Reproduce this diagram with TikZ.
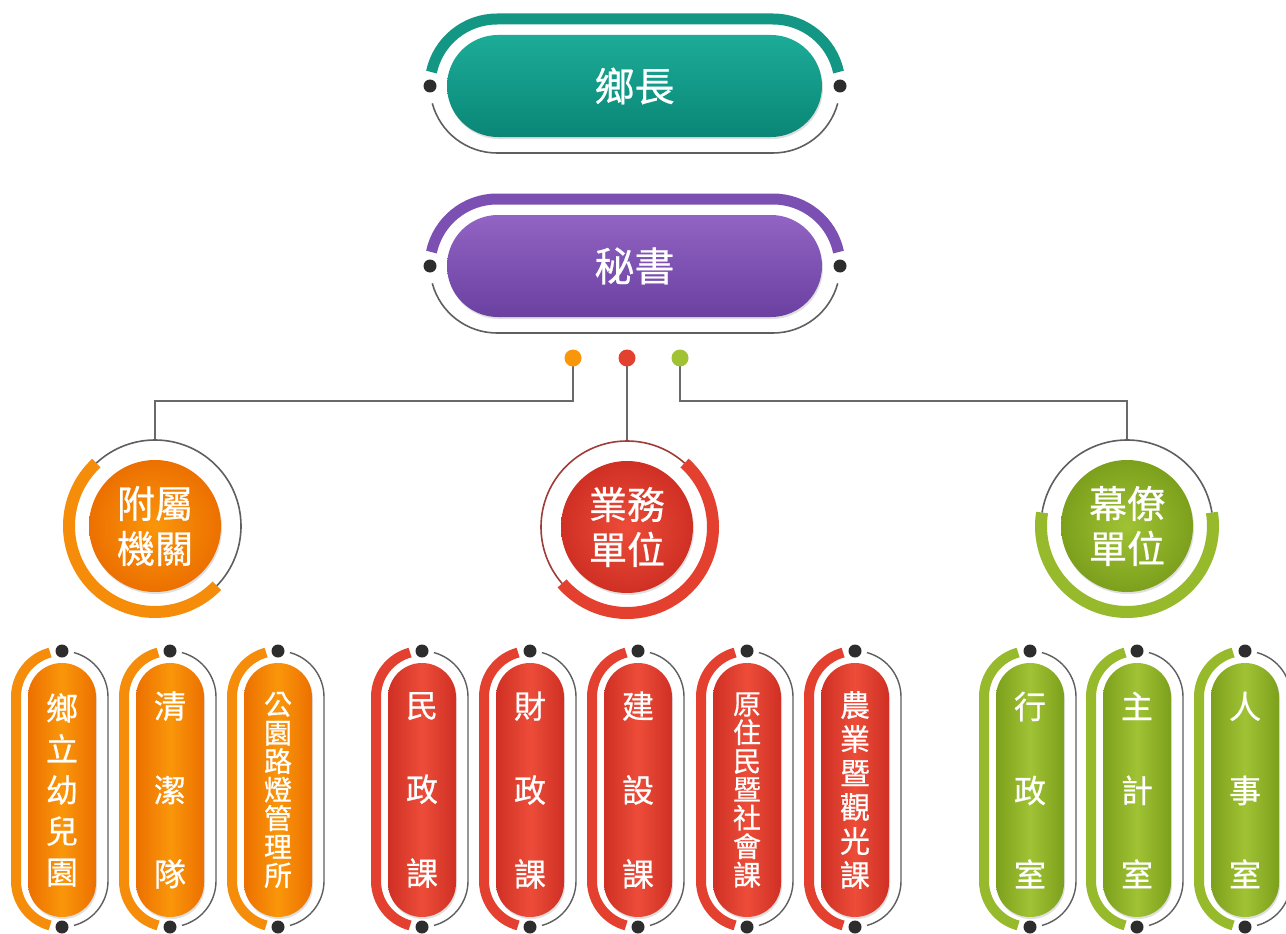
\documentclass[tikz,border=0pt]{standalone}
\usepackage{fontspec}
\newfontfamily\cjk[FakeBold=0.6]{Noto Sans CJK TC}
\usetikzlibrary{shapes.misc,shadows}
\definecolor{tealL}{RGB}{28,172,152}
\definecolor{tealD}{RGB}{10,134,118}
\definecolor{tealB}{RGB}{20,150,132}
\definecolor{purL}{RGB}{146,100,196}
\definecolor{purD}{RGB}{106,64,160}
\definecolor{purB}{RGB}{124,80,178}
\definecolor{orL}{RGB}{250,150,10}
\definecolor{orD}{RGB}{236,112,0}
\definecolor{orB}{RGB}{245,140,10}
\definecolor{rdL}{RGB}{236,76,56}
\definecolor{rdD}{RGB}{208,48,36}
\definecolor{rdB}{RGB}{228,64,48}
\definecolor{gnL}{RGB}{160,194,52}
\definecolor{gnD}{RGB}{124,160,28}
\definecolor{gnB}{RGB}{150,186,44}
\definecolor{ringgray}{RGB}{95,95,95}
\definecolor{ringred}{RGB}{160,60,55}
\definecolor{dotc}{RGB}{45,45,45}
\definecolor{connc}{RGB}{105,105,105}
\newcommand\hringdraw[3]{%
  \draw[line width=11pt,#3] (#1-138,#2) ++(-168:67) arc[start angle=-168,end angle=-90,radius=67] -- ++(276,0) arc[start angle=-90,end angle=-12,radius=67];
  \draw[line width=1.6pt,ringgray] (#1+138,#2) ++(15:67) arc[start angle=15,end angle=90,radius=67] -- ++(-276,0) arc[start angle=90,end angle=165,radius=67];
}
\newcommand\vringdraw[2]{%
  \draw[line width=10pt,#2] (#1,697) ++(-105:46) arc[start angle=-105,end angle=-180,radius=46] -- ++(0,184) arc[start angle=-180,end angle=-255,radius=46];
  \draw[line width=1.4pt,ringgray] (#1,697) ++(-75:46) arc[start angle=-75,end angle=0,radius=46] -- ++(0,184) arc[start angle=0,end angle=75,radius=46];
}
\begin{document}
\begin{tikzpicture}[x=1pt,y=-1pt,
  dot/.style={circle,fill=dotc,inner sep=0pt,minimum size=13pt},
  sdot/.style={circle,inner sep=0pt,minimum size=17pt},
  hpill/.style={rounded rectangle,minimum width=375pt,minimum height=102pt,inner sep=0pt,text=white,font=\cjk\fontsize{40}{44}\selectfont,drop shadow={shadow xshift=1pt,shadow yshift=-2pt,opacity=0.25}},
  vpill/.style={rectangle,rounded corners=34pt,minimum width=68pt,minimum height=254pt,inner sep=0pt,align=center,text=white,drop shadow={shadow xshift=1pt,shadow yshift=-2pt,opacity=0.25}},
  disc/.style={circle,minimum size=132pt,inner sep=0pt,align=center,text=white,font=\cjk\fontsize{38}{45}\selectfont,drop shadow={shadow xshift=1pt,shadow yshift=-2pt,opacity=0.25}},
  ringnode/.style={circle,minimum size=172pt,inner sep=0pt},
  orp/.style={vpill,left color=orD,right color=orD,middle color=orL},
  rdp/.style={vpill,left color=rdD,right color=rdD,middle color=rdL},
  gnp/.style={vpill,left color=gnD,right color=gnD,middle color=gnL},
  txA/.style={font=\cjk\fontsize{32}{84}\selectfont},
  txB/.style={font=\cjk\fontsize{32}{41}\selectfont},
  txC/.style={font=\cjk\fontsize{28}{28.5}\selectfont},
  txD/.style={font=\cjk\fontsize{30}{34}\selectfont},
  conn/.style={draw=connc,line width=2pt}]
\useasboundingbox (0,0) rectangle (1286,934);
\fill[white] (0,0) rectangle (1286,934);

% top boxes
\hringdraw{635}{86}{tealB}
\node[hpill,top color=tealL,bottom color=tealD] (mayor) at (634.5,86) {鄉長};
\node[dot] (mayorL) at (430,86) {};
\node[dot] (mayorR) at (840,86) {};

\hringdraw{635}{266}{purB}
\node[hpill,top color=purL,bottom color=purD] (secr) at (634.5,266) {秘書};
\node[dot] (secrL) at (430,266) {};
\node[dot] (secrR) at (840,266) {};

% circle groups
\node[ringnode] (r1) at (155,526) {};
\node[ringnode] (r2) at (627,527) {};
\node[ringnode] (r3) at (1127,526) {};

\node[sdot] (d1) at (573,358) {};
\node[sdot] (d2) at (627,358) {};
\node[sdot] (d3) at (680,358) {};
\draw[conn] (d1.center) -- (d1.center |- 0,401) -| (r1.north);
\draw[conn] (d2.center) -- (r2.north);
\draw[conn] (d3.center) -- (d3.center |- 0,401) -| (r3.north);
\node[sdot,fill=orL] at (d1) {};
\node[sdot,fill=rdB] at (d2) {};
\node[sdot,fill=gnL] at (d3) {};

\draw[line width=12pt,orB] (r1.center) ++(-133:86) arc[start angle=-133,end angle=-316,radius=86];
\draw[line width=1.6pt,ringgray] (r1.center) ++(44:86) arc[start angle=44,end angle=-133,radius=86];
\node[disc,inner color=orL,outer color=orD] (c1) at (r1.center) {附屬\\機關};

\draw[line width=12pt,rdB] (r2.center) ++(-48:86) arc[start angle=-48,end angle=139,radius=86];
\draw[line width=1.6pt,ringred] (r2.center) ++(-48:86) arc[start angle=-48,end angle=-221,radius=86];
\node[disc,inner color=rdL,outer color=rdD] (c2) at (r2.center) {業務\\單位};

\draw[line width=12pt,gnB] (r3.center) ++(-171:86) arc[start angle=-171,end angle=-369,radius=86];
\draw[line width=1.6pt,ringgray] (r3.center) ++(-9:86) arc[start angle=-9,end angle=-171,radius=86];
\node[disc,inner color=gnL,outer color=gnD] (c3) at (r3.center) {幕僚\\單位};

% bottom pills
\foreach \cx in {62,170,278} {\vringdraw{\cx}{orB}}
\foreach \cx in {422,530,638,747,855} {\vringdraw{\cx}{rdB}}
\foreach \cx in {1030,1137,1245} {\vringdraw{\cx}{gnB}}

\node[orp,txB] (p1) at (62,790) {鄉\\立\\幼\\兒\\園};
\node[orp,txA] (p2) at (170,790) {清\\潔\\隊};
\node[orp,txC] (p3) at (278,790) {公\\園\\路\\燈\\管\\理\\所};
\node[rdp,txA] (p4) at (422,790) {民\\政\\課};
\node[rdp,txA] (p5) at (530,790) {財\\政\\課};
\node[rdp,txA] (p6) at (638,790) {建\\設\\課};
\node[rdp,txC] (p7) at (747,790) {原\\住\\民\\暨\\社\\會\\課};
\node[rdp,txD] (p8) at (855,790) {農\\業\\暨\\觀\\光\\課};
\node[gnp,txA] (p9) at (1030,790) {行\\政\\室};
\node[gnp,txA] (p10) at (1137,790) {主\\計\\室};
\node[gnp,txA] (p11) at (1245,790) {人\\事\\室};

\foreach \n/\cx in {1/62,2/170,3/278,4/422,5/530,6/638,7/747,8/855,9/1030,10/1137,11/1245} {
  \node[dot] (pt\n) at (\cx,651) {};
  \node[dot] (pb\n) at (\cx,927) {};
}
\end{tikzpicture}
\end{document}
